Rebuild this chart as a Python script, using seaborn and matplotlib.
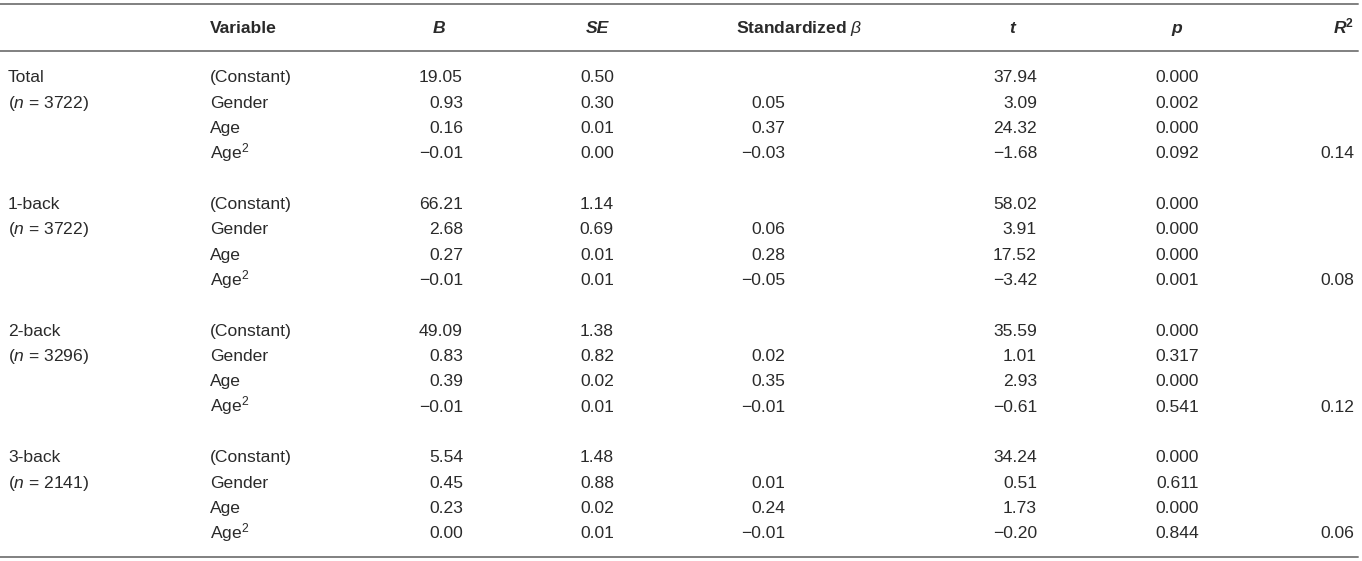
import numpy as np
import pandas as pd
import matplotlib
matplotlib.use("Agg")
import matplotlib.pyplot as plt
import seaborn as sns

# ---------------- data ----------------
groups = ["Total", "1-back", "2-back", "3-back"]
group_n = [3722, 3722, 3296, 2141]
variables = ["(Constant)", "Gender", "Age", "Age$^2$"]

B_vals = [19.05, 0.93, 0.16, -0.01,
          66.21, 2.68, 0.27, -0.01,
          49.09, 0.83, 0.39, -0.01,
          5.54, 0.45, 0.23, 0.00]
SE_vals = [0.50, 0.30, 0.01, 0.00,
           1.14, 0.69, 0.01, 0.01,
           1.38, 0.82, 0.02, 0.01,
           1.48, 0.88, 0.02, 0.01]
beta_vals = [None, 0.05, 0.37, -0.03,
             None, 0.06, 0.28, -0.05,
             None, 0.02, 0.35, -0.01,
             None, 0.01, 0.24, -0.01]
t_vals = [37.94, 3.09, 24.32, -1.68,
          58.02, 3.91, 17.52, -3.42,
          35.59, 1.01, 2.93, -0.61,
          34.24, 0.51, 1.73, -0.20]
p_vals = [0.000, 0.002, 0.000, 0.092,
          0.000, 0.000, 0.000, 0.001,
          0.000, 0.317, 0.000, 0.541,
          0.000, 0.611, 0.000, 0.844]
R2_vals = [0.14, 0.08, 0.12, 0.06]

headers = ["Variable", "B", "SE", "Standardized $\\beta$", "t", "p", "$\\mathbfit{R}^{\\mathbf{2}}$"]

# ---------------- style ----------------
sns.set_theme(style="white")
plt.rcParams["font.family"] = ["Liberation Sans", "DejaVu Sans"]
plt.rcParams["mathtext.fontset"] = "custom"
plt.rcParams["mathtext.rm"] = "Liberation Sans"
plt.rcParams["mathtext.it"] = "Liberation Sans:italic"
plt.rcParams["mathtext.bf"] = "Liberation Sans:bold"
plt.rcParams["mathtext.bfit"] = "Liberation Sans:italic:bold"

TXT = "#2a2a2a"
RULE = "#808080"
FS = 12.6

fig = plt.figure(figsize=(13.62, 5.61), dpi=100)
ax = fig.add_axes([0, 0, 1, 1])
ax.set_xlim(0, 1362)
ax.set_ylim(561, 0)
ax.axis("off")
sns.despine(ax=ax, left=True, bottom=True)

# layout
x_group = 8
x_var = 210
x_right = {"B": 463, "SE": 614, "beta": 785, "t": 1037, "p": 1199, "R2": 1354}
x_head = {"B": 439, "SE": 597, "beta": 799, "t": 1012, "p": 1177}
y_header = 27
row0 = 76
dy = 25.35
cap = 6.2  # half cap height -> baseline offset

def fmt(v, nd):
    if v is None:
        return ""
    s = f"{v:.{nd}f}"
    return s.replace("-", "\u2212")

# rules
for yy in (3.5, 50.5, 556.5):
    ax.axhline(yy, xmin=0, xmax=1358 / 1362, color=RULE, lw=1.4)

# header
hkw = dict(fontsize=FS, color=TXT, fontweight="bold", va="baseline")
ax.text(x_var, y_header + cap, headers[0], ha="left", **hkw)
ax.text(x_head["B"], y_header + cap, headers[1], ha="center", style="italic", **hkw)
ax.text(x_head["SE"], y_header + cap, headers[2], ha="center", style="italic", **hkw)
ax.text(x_head["beta"], y_header + cap, headers[3], ha="center", **hkw)
ax.text(x_head["t"], y_header + cap, headers[4], ha="center", style="italic", **hkw)
ax.text(x_head["p"], y_header + cap, headers[5], ha="center", style="italic", **hkw)
ax.text(x_right["R2"], y_header + cap, headers[6], ha="right", **hkw)

kw = dict(fontsize=FS, color=TXT, va="baseline")
for g, (name, n) in enumerate(zip(groups, group_n)):
    base = row0 + g * 5 * dy
    ax.text(x_group, base + cap, name, ha="left", **kw)
    ax.text(x_group, base + dy + cap, f"($n$ = {n})", ha="left", **kw)
    for r, var in enumerate(variables):
        i = g * 4 + r
        y = base + r * dy + cap
        ax.text(x_var, y, var, ha="left", **kw)
        ax.text(x_right["B"], y, fmt(B_vals[i], 2), ha="right", **kw)
        ax.text(x_right["SE"], y, fmt(SE_vals[i], 2), ha="right", **kw)
        ax.text(x_right["beta"], y, fmt(beta_vals[i], 2), ha="right", **kw)
        ax.text(x_right["t"], y, fmt(t_vals[i], 2), ha="right", **kw)
        ax.text(x_right["p"], y, fmt(p_vals[i], 3), ha="right", **kw)
        if r == 3:
            ax.text(x_right["R2"], y, fmt(R2_vals[g], 2), ha="right", **kw)

fig.savefig("out.png", dpi=100, facecolor="white")
